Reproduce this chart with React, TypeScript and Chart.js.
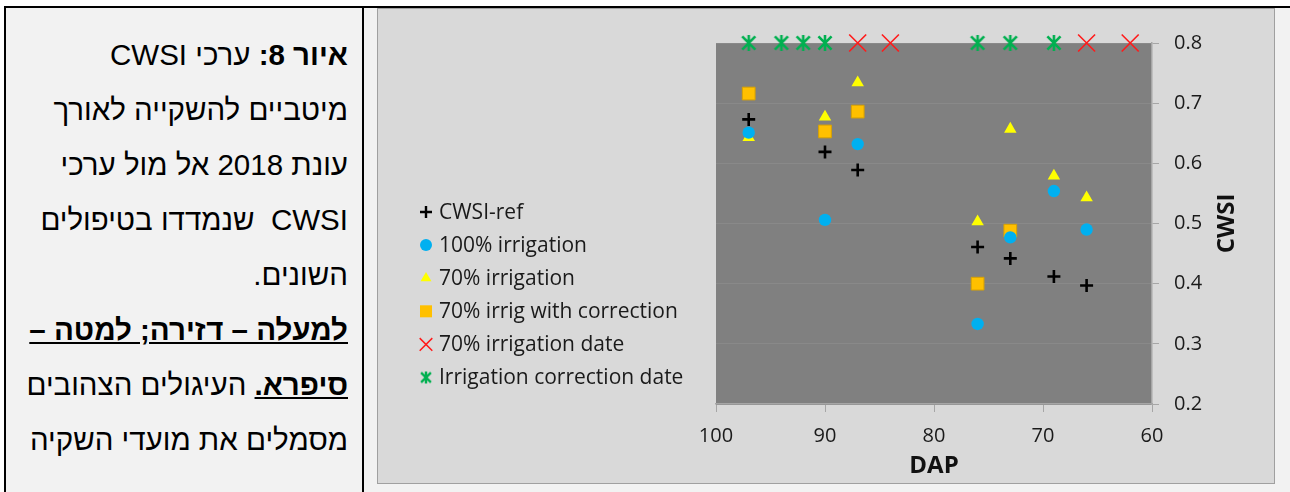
import React, { useEffect, useRef } from "react";
import { Chart, registerables } from "chart.js";
Chart.register(...registerables);

// ---- data ----
const dapDays = [97, 90, 87, 76, 73, 69, 66];
const cwsiRef = [0.673, 0.619, 0.589, 0.461, 0.442, 0.412, 0.397];
const irr100 = [0.651, 0.506, 0.632, 0.333, 0.477, 0.554, 0.49];
const irr70 = [0.643, 0.677, 0.734, 0.503, 0.657, 0.579, 0.543];
const corrDays = [97, 90, 87, 76, 73];
const irr70Corr = [0.716, 0.653, 0.686, 0.4, 0.488];
const irr70Dates = [87, 84, 66, 62];
const corrDates = [97, 94, 92, 90, 76, 73, 69];
const dateMarkLevel = 0.8;
const seriesNames = [
  "CWSI-ref",
  "100% irrigation",
  "70% irrigation",
  "70% irrig with correction",
  "70% irrigation date",
  "Irrigation correction date",
];
const xTitle = "DAP";
const yTitle = "CWSI";

const FONT = "'Open Sans', 'Noto Sans', sans-serif";

function makeAsterisk(size: number, lw: number, color: string): HTMLCanvasElement {
  const c = document.createElement("canvas");
  c.width = size;
  c.height = size;
  const g = c.getContext("2d")!;
  g.strokeStyle = color;
  g.lineWidth = lw;
  const m = size / 2;
  const r = size / 2 - 1;
  const d = r * 0.82;
  g.beginPath();
  g.moveTo(m, m - r);
  g.lineTo(m, m + r);
  g.moveTo(m - d, m - d);
  g.lineTo(m + d, m + d);
  g.moveTo(m + d, m - d);
  g.lineTo(m - d, m + d);
  g.stroke();
  return c;
}

const pts = (xs: number[], ys: number[]) => xs.map((x, i) => ({ x, y: ys[i] }));
const level = (xs: number[]) => xs.map((x) => ({ x, y: dateMarkLevel }));

function ChartBox() {
  const ref = useRef<HTMLCanvasElement>(null);
  useEffect(() => {
    const star = makeAsterisk(18, 2.6, "#00b050");
    const starLegend = makeAsterisk(14, 2.4, "#00b050");

    const bgPlugin = {
      id: "plotBg",
      beforeDraw(chart: any) {
        const { ctx, chartArea: a } = chart;
        ctx.save();
        ctx.fillStyle = "#808080";
        ctx.fillRect(a.left, a.top, a.right - a.left, a.bottom - a.top);
        ctx.restore();
      },
    };

    const overlayPlugin = {
      id: "overlay",
      afterDraw(chart: any) {
        const { ctx, chartArea: a } = chart;
        ctx.save();
        // axis titles
        ctx.fillStyle = "#111";
        ctx.font = `bold 24px ${FONT}`;
        ctx.textAlign = "center";
        ctx.textBaseline = "middle";
        ctx.fillText(xTitle, (a.left + a.right) / 2, 457);
        ctx.save();
        ctx.translate(849, (a.top + a.bottom) / 2);
        ctx.rotate(-Math.PI / 2);
        ctx.fillText(yTitle, 0, 0);
        ctx.restore();

        // legend
        const lx = 48;
        const tx = 61;
        const y0 = 203;
        const dy = 33.1;
        ctx.font = `21px ${FONT}`;
        ctx.textAlign = "left";
        for (let i = 0; i < seriesNames.length; i++) {
          const y = y0 + i * dy;
          ctx.save();
          if (i === 0) {
            ctx.strokeStyle = "#000";
            ctx.lineWidth = 2.4;
            ctx.beginPath();
            ctx.moveTo(lx - 6, y);
            ctx.lineTo(lx + 6, y);
            ctx.moveTo(lx, y - 6);
            ctx.lineTo(lx, y + 6);
            ctx.stroke();
          } else if (i === 1) {
            ctx.fillStyle = "#00b0f0";
            ctx.beginPath();
            ctx.arc(lx, y, 6, 0, Math.PI * 2);
            ctx.fill();
          } else if (i === 2) {
            ctx.fillStyle = "#ffff00";
            const r = 6.3;
            ctx.beginPath();
            ctx.moveTo(lx, y - r);
            ctx.lineTo(lx + r * 0.866, y + r * 0.5);
            ctx.lineTo(lx - r * 0.866, y + r * 0.5);
            ctx.closePath();
            ctx.fill();
          } else if (i === 3) {
            ctx.fillStyle = "#ffc000";
            ctx.fillRect(lx - 6, y - 6, 12, 12);
          } else if (i === 4) {
            ctx.strokeStyle = "#ff1a1a";
            ctx.lineWidth = 1.5;
            ctx.beginPath();
            ctx.moveTo(lx - 6.3, y - 6.3);
            ctx.lineTo(lx + 6.3, y + 6.3);
            ctx.moveTo(lx + 6.3, y - 6.3);
            ctx.lineTo(lx - 6.3, y + 6.3);
            ctx.stroke();
          } else {
            ctx.drawImage(starLegend, lx - 7, y - 7);
          }
          ctx.restore();
          ctx.fillStyle = "#1a1a1a";
          ctx.textBaseline = "middle";
          ctx.fillText(seriesNames[i], tx, y + 1);
        }
        ctx.restore();
      },
    };

    const chart = new Chart(ref.current!, {
      type: "scatter",
      data: {
        datasets: [
          {
            label: seriesNames[0],
            data: pts(dapDays, cwsiRef),
            pointStyle: "cross",
            pointRadius: 6.5,
            pointBorderWidth: 2.6,
            pointBorderColor: "#000",
            pointBackgroundColor: "#000",
            clip: false,
          },
          {
            label: seriesNames[1],
            data: pts(dapDays, irr100),
            pointStyle: "circle",
            pointRadius: 6.2,
            pointBorderWidth: 0,
            pointBorderColor: "#00b0f0",
            pointBackgroundColor: "#00b0f0",
            clip: false,
          },
          {
            label: seriesNames[2],
            data: pts(dapDays, irr70),
            pointStyle: "triangle",
            pointRadius: 7.2,
            pointBorderWidth: 0,
            pointBorderColor: "#ffff00",
            pointBackgroundColor: "#ffff00",
            clip: false,
          },
          {
            label: seriesNames[3],
            data: pts(corrDays, irr70Corr),
            pointStyle: "rect",
            pointRadius: 9,
            pointBorderWidth: 1,
            pointBorderColor: "#d9a200",
            pointBackgroundColor: "#ffc000",
            clip: false,
          },
          {
            label: seriesNames[4],
            data: level(irr70Dates),
            pointStyle: "crossRot",
            pointRadius: 12,
            pointBorderWidth: 1.6,
            pointBorderColor: "#ff1a1a",
            pointBackgroundColor: "#ff1a1a",
            clip: false,
          },
          {
            label: seriesNames[5],
            data: level(corrDates),
            pointStyle: star as any,
            pointRadius: 9,
            pointBorderWidth: 0,
            pointBorderColor: "#00b050",
            pointBackgroundColor: "#00b050",
            clip: false,
          },
        ] as any,
      },
      plugins: [bgPlugin, overlayPlugin],
      options: {
        animation: false,
        responsive: false,
        devicePixelRatio: 1,
        layout: { padding: { left: 338, top: 34, right: 0, bottom: 0 } },
        plugins: { legend: { display: false }, tooltip: { enabled: false } },
        scales: {
          x: {
            type: "linear",
            position: "bottom",
            min: 60,
            max: 100,
            reverse: true,
            afterFit(s: any) {
              s.height = 79;
            },
            ticks: {
              stepSize: 10,
              font: { family: FONT, size: 20 },
              color: "#1a1a1a",
              padding: 12,
              maxRotation: 0,
            },
            grid: {
              drawOnChartArea: false,
              drawTicks: true,
              tickLength: 8,
              tickColor: "#a6a6a6",
              color: "#a6a6a6",
            },
            border: { color: "#a6a6a6", width: 1.5 },
          },
          y: {
            type: "linear",
            position: "right",
            min: 0.2,
            max: 0.8,
            afterFit(s: any) {
              s.width = 122;
            },
            ticks: {
              stepSize: 0.1,
              font: { family: FONT, size: 20 },
              color: "#1a1a1a",
              padding: 15,
              callback: (v: any) => Number(v).toFixed(1),
            },
            grid: {
              drawTicks: true,
              tickLength: 7,
              tickColor: "#a6a6a6",
              color: "#898989",
              lineWidth: 1,
            },
            border: { color: "#a6a6a6", width: 1.5 },
          },
        },
      } as any,
    });
    return () => chart.destroy();
  }, []);
  return <canvas ref={ref} width={896} height={474} style={{ display: "block", width: 896, height: 474 }} />;
}

const heb: React.CSSProperties = {
  whiteSpace: "nowrap",
  direction: "rtl",
  textAlign: "right",
  height: 55,
};

export default function App() {
  return (
    <div style={{ position: "absolute", left: 0, top: 0, width: 1290, height: 492, background: "#ffffff", overflow: "hidden" }}>
      <div style={{ position: "absolute", left: 6, top: 8, width: 1284, height: 484, background: "#f2f2f2" }} />
      <div style={{ position: "absolute", left: 4, top: 6, width: 1286, height: 2, background: "#000" }} />
      <div style={{ position: "absolute", left: 4, top: 6, width: 2, height: 486, background: "#000" }} />
      <div style={{ position: "absolute", left: 362, top: 6, width: 2, height: 486, background: "#000" }} />
      <div
        style={{
          position: "absolute",
          left: 10,
          top: 27,
          width: 338,
          fontFamily: "'Liberation Sans', Arial, 'DejaVu Sans', sans-serif",
          fontSize: 29.5,
          lineHeight: "55px",
          color: "#000",
        }}
      >
        <div style={heb}>
          <b>איור 8:</b> ערכי CWSI
        </div>
        <div style={heb}>מיטביים להשקייה לאורך</div>
        <div style={heb}>עונת 2018 אל מול ערכי</div>
        <div style={heb}>CWSI{"\u00a0 "}שנמדדו בטיפולים</div>
        <div style={heb}>השונים.</div>
        <div style={heb}>
          <b>
            <u>למעלה – דזירה; למטה –</u>
          </b>
        </div>
        <div style={heb}>
          <b>
            <u>סיפרא.</u>
          </b>{" "}
          העיגולים הצהובים
        </div>
        <div style={heb}>מסמלים את מועדי השקיה</div>
      </div>
      <div
        style={{
          position: "absolute",
          left: 377,
          top: 8,
          width: 898,
          height: 476,
          border: "1px solid #a0a0a0",
          boxSizing: "border-box",
          background: "#d9d9d9",
        }}
      >
        <ChartBox />
      </div>
    </div>
  );
}
